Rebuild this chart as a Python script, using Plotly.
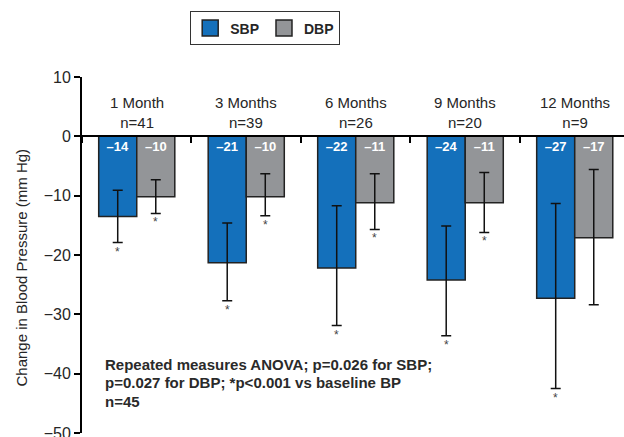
import plotly.graph_objects as go

# ---- data ----
months = ["1 Month", "3 Months", "6 Months", "9 Months", "12 Months"]
n_labels = ["n=41", "n=39", "n=26", "n=20", "n=9"]
sbp = [-13.5, -21.3, -22.2, -24.2, -27.3]
sbp_err_up = [4.4, 6.7, 10.5, 9.1, 16.0]
sbp_err_down = [4.4, 6.4, 9.7, 9.4, 15.2]
sbp_labels = ["–14", "–21", "–22", "–24", "–27"]
sbp_sig = [True, True, True, True, True]
dbp = [-10.2, -10.2, -11.2, -11.2, -17.1]
dbp_err_up = [2.9, 3.9, 4.9, 5.1, 11.5]
dbp_err_down = [2.8, 3.2, 4.5, 5.0, 11.3]
dbp_labels = ["–10", "–10", "–11", "–11", "–17"]
dbp_sig = [True, True, True, True, False]
y_ticks = [10, 0, -10, -20, -30, -40, -50]
note_lines = ["Repeated measures ANOVA; p=0.026 for SBP;",
              "p=0.027 for DBP; *p<0.001 vs baseline BP",
              "n=45"]

FONT = "Arial, Liberation Sans, sans-serif"
BLUE = "#1470bb"
GREY = "#939598"
TXT = "#262626"
EDGE = "#222222"

fig = go.Figure()
for name, vals, up, down, labels, color in [
    ("SBP", sbp, sbp_err_up, sbp_err_down, sbp_labels, BLUE),
    ("DBP", dbp, dbp_err_up, dbp_err_down, dbp_labels, GREY),
]:
    fig.add_trace(go.Bar(
        name=name, x=months, y=vals, legendgroup=name, showlegend=False,
        marker=dict(color=color, line=dict(color=EDGE, width=1.5)),
        error_y=dict(type="data", symmetric=False, array=up, arrayminus=down,
                     color="#111111", thickness=1.5, width=5),
        text=labels, textposition="inside", insidetextanchor="start", textangle=0,
        textfont=dict(family=FONT, size=13, color="white", weight="bold"),
        hoverinfo="skip",
    ))
# legend entries (larger swatches)
for name, color in [("SBP", BLUE), ("DBP", GREY)]:
    fig.add_trace(go.Scatter(
        name=name, x=[None], y=[None], mode="markers", legendgroup=name,
        marker=dict(symbol="square", size=16, color=color, line=dict(color=EDGE, width=1.5)),
        hoverinfo="skip",
    ))

annotations = []
for m, n in zip(months, n_labels):
    annotations.append(dict(x=m, y=4.1, xref="x", yref="y", text=f"{m}<br>{n}",
                            showarrow=False, font=dict(family=FONT, size=15, color=TXT),
                            align="center", yanchor="middle"))
for m, v, e, s in zip(months, sbp, sbp_err_down, sbp_sig):
    if s:
        annotations.append(dict(x=m, y=v - e, xref="x", yref="y", text="*", showarrow=False,
                                xshift=-19, yshift=-9, font=dict(family=FONT, size=12, color="#444"),
                                yanchor="middle"))
for m, v, e, s in zip(months, dbp, dbp_err_down, dbp_sig):
    if s:
        annotations.append(dict(x=m, y=v - e, xref="x", yref="y", text="*", showarrow=False,
                                xshift=19, yshift=-9, font=dict(family=FONT, size=12, color="#444"),
                                yanchor="middle"))
# note (three lines)
for i, line in enumerate(note_lines):
    annotations.append(dict(x=0.038, y=0.193 - i * 0.052, xref="paper", yref="paper", text=line,
                            showarrow=False, xanchor="left", yanchor="middle", align="left",
                            font=dict(family=FONT, size=15, color="#2a2a2a", weight="bold")))
# y title
annotations.append(dict(x=-0.1125, y=0.465, xref="paper", yref="paper",
                        text="Change in Blood Pressure (mm Hg)", textangle=-90, showarrow=False,
                        xanchor="center", yanchor="middle",
                        font=dict(family=FONT, size=15, color=TXT)))

fig.update_layout(
    width=624, height=437,
    margin=dict(l=82, r=0, t=77, b=4, autoexpand=False),
    plot_bgcolor="white", paper_bgcolor="white",
    barmode="group", bargap=0.305, bargroupgap=0,
    font=dict(family=FONT, size=14, color=TXT),
    showlegend=True,
    legend=dict(orientation="h", x=0.338, y=1.184, xanchor="center", yanchor="top",
                bordercolor="#333333", borderwidth=1, bgcolor="white",
                font=dict(family=FONT, size=14, color=TXT, weight="bold"),
                itemclick=False, itemsizing="trace"),
    annotations=annotations,
    uniformtext=dict(minsize=13, mode="show"),
)
fig.update_xaxes(
    range=[-0.5, 4.45], showticklabels=False, showgrid=False, zeroline=False,
    showline=True, linecolor="black", linewidth=2,
    anchor="free", position=50 / 60, side="bottom",
    ticks="outside", tickson="boundaries", ticklen=6, tickwidth=2, tickcolor="black",
)
fig.update_yaxes(
    range=[-50, 10], tickvals=y_ticks, showgrid=False, zeroline=False,
    showline=True, linecolor="black", linewidth=2,
    ticks="outside", ticklen=6, tickwidth=2, tickcolor="black",
    tickfont=dict(family=FONT, size=16, color=TXT), ticklabeloverflow="allow",
)
fig.write_html("out.html", config={"displayModeBar": False},
               post_script="document.body.style.margin='0';document.body.style.overflow='hidden';")
